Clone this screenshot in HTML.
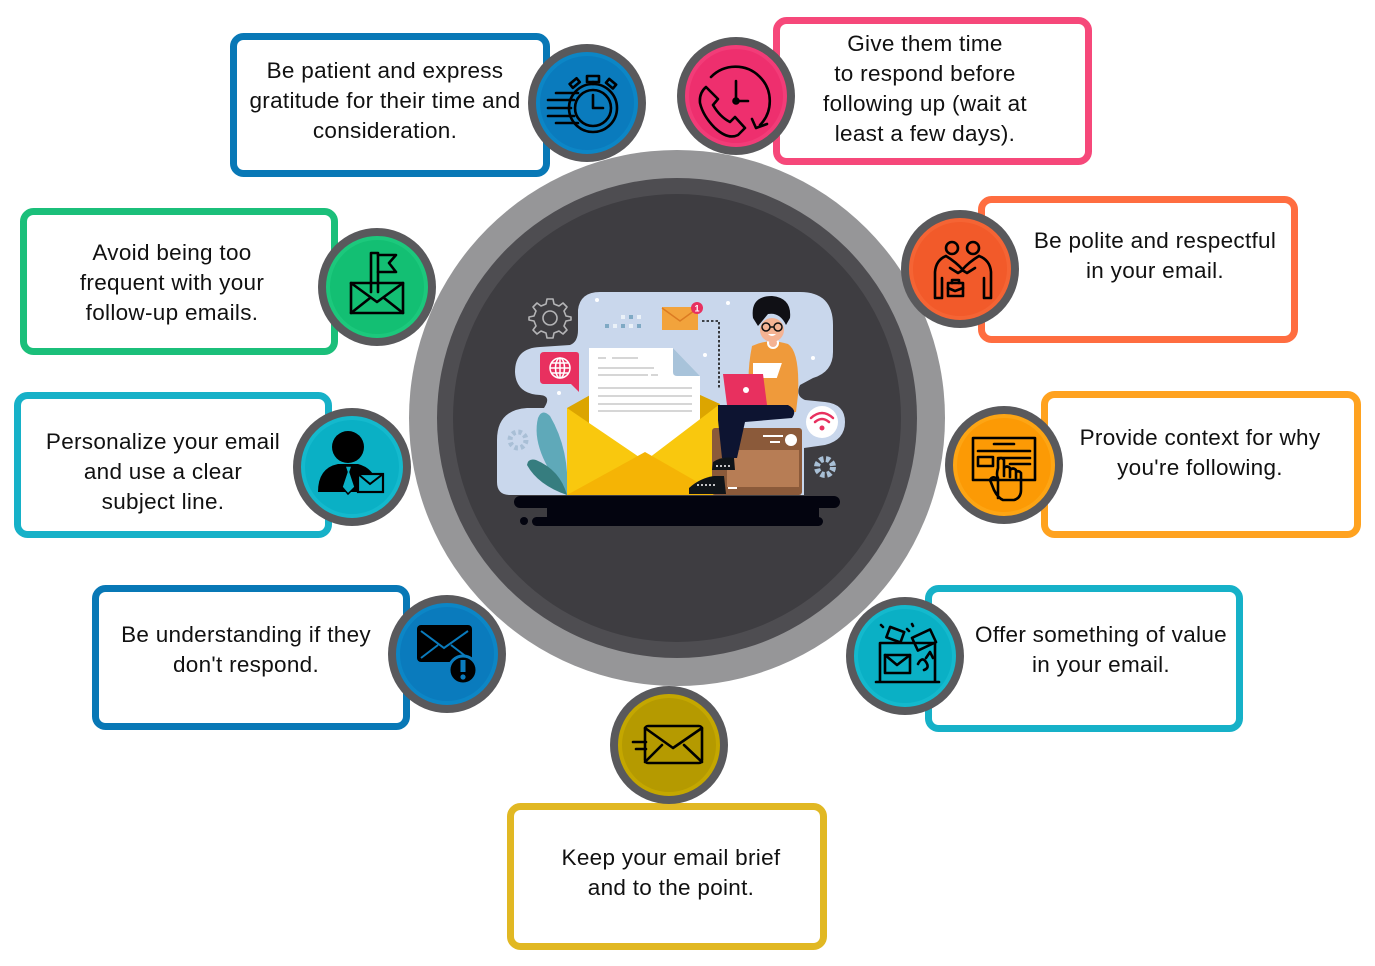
<!DOCTYPE html>
<html><head><meta charset="utf-8"><style>
html,body{margin:0;padding:0;background:#fff;}
svg{display:block;}
text{font-family:"Liberation Sans",sans-serif;font-size:22.5px;letter-spacing:0.3px;fill:#111;}
</style></head><body>
<svg width="1375" height="966" viewBox="0 0 1375 966" xmlns="http://www.w3.org/2000/svg">
<!-- big central circle -->
<circle cx="677" cy="418" r="268" fill="#969698"/>
<circle cx="677" cy="418" r="240" fill="#4e4d51"/>
<circle cx="677" cy="418" r="224" fill="#3e3d41"/>

<!-- illustration -->
<path d="M600,292 H800 Q833,292 833,325 V352 Q833,372 813,378 L800,385 Q795,396 805,400 L825,402 Q845,404 845,422 Q845,440 825,445 L804,448 V495 H510 Q497,495 497,482 V440 Q497,410 527,408 L544,408 Q552,396 540,395 Q516,394 515,372 Q515,348 540,347 L570,345 Q578,342 578,330 V310 Q580,292 600,292 Z" fill="#c9d7ec"/>
<!-- outline gear -->
<g fill="none" stroke="#b4b4b6" stroke-width="1.6" stroke-linejoin="round">
<path d="M547,299 H553 L554,304 L559,306 L563,303 L567,307 L564,311 L566,316 L571,317 V320 L566,321 L564,326 L567,330 L563,334 L559,331 L554,333 L553,338 H547 L546,333 L541,331 L537,334 L533,330 L536,326 L534,321 L529,320 V317 L534,316 L536,311 L533,307 L537,303 L541,306 L546,304 Z"/>
<circle cx="550" cy="318" r="7"/>
</g>
<!-- dots -->
<g fill="#eaf1f8"><rect x="621" y="315" width="4" height="4"/><rect x="637" y="315" width="4" height="4"/><rect x="613" y="324" width="4" height="4"/><rect x="629" y="324" width="4" height="4"/></g>
<g fill="#7fa9c4"><rect x="629" y="315" width="4" height="4"/><rect x="605" y="324" width="4" height="4"/><rect x="621" y="324" width="4" height="4"/><rect x="637" y="324" width="4" height="4"/></g>
<circle cx="597" cy="300" r="2" fill="#fff"/><circle cx="705" cy="355" r="2" fill="#fff"/><circle cx="559" cy="393" r="2" fill="#fff"/><circle cx="728" cy="303" r="2" fill="#fff"/><circle cx="813" cy="358" r="2" fill="#fff"/>
<!-- small envelope -->
<rect x="662" y="307" width="36" height="23" fill="#f2a33c"/>
<path d="M662,308 L680,321 L698,308" fill="none" stroke="#dc7b22" stroke-width="1.5"/>
<circle cx="697" cy="308" r="6" fill="#e8305f"/>
<text x="697" y="311.5" text-anchor="middle" style="font-size:9px;fill:#fff;font-weight:bold;letter-spacing:0">1</text>
<path d="M702,321 H719 V388" fill="none" stroke="#111" stroke-width="1.6" stroke-dasharray="2.5 2"/>
<!-- globe bubble -->
<path d="M544,352 H576 Q579,352 579,355 V392 L571,384 H544 Q540,384 540,380 V356 Q540,352 544,352 Z" fill="#e8305f"/>
<g fill="none" stroke="#fff" stroke-width="1.5"><circle cx="560" cy="368" r="10"/><ellipse cx="560" cy="368" rx="4.5" ry="10"/><path d="M550,368 H570 M552,363 H568 M552,373 H568 M560,358 V378"/></g>
<!-- leaves -->
<path d="M567,495 Q530,450 538,418 Q542,408 550,416 Q570,450 567,495 Z" fill="#5fa9b9"/>
<path d="M567,495 Q538,485 527,465 Q528,458 536,460 Q560,470 567,495 Z" fill="#367d7f"/>
<!-- small gears -->
<circle cx="518" cy="440" r="8" fill="none" stroke="#a9bfd6" stroke-width="5" stroke-dasharray="3.5 2.8"/>
<circle cx="518" cy="440" r="3" fill="#c9d7ec"/>
<circle cx="825" cy="467" r="8" fill="none" stroke="#a9c0d6" stroke-width="6" stroke-dasharray="4 2.4"/>
<circle cx="825" cy="467" r="3" fill="#3e3d41"/>
<!-- envelope back -->
<path d="M567,408 L592,394 H698 L720,404 V430 H567 Z" fill="#dca500"/>
<!-- paper -->
<path d="M589,348 H673 L700,376 V470 H589 Z" fill="#fff"/>
<path d="M673,348 L700,376 H677 Q673,376 673,372 Z" fill="#a8c3da"/>
<g stroke="#d6d6d6" stroke-width="2"><path d="M598,358 H606 M612,358 H638 M598,368 H654 M598,375 H648 M651,375 H658 M598,388 H692 M598,396 H692 M598,404 H692 M598,411 H692"/></g>
<!-- envelope front -->
<path d="M567,408 L645,461 L720,404 V495 H567 Z" fill="#f9c80e"/>
<path d="M567,495 L645,452 L720,495 Z" fill="#f5b405"/>
<!-- box -->
<rect x="712" y="428" width="90" height="67" rx="3" fill="#8b5a3a"/>
<rect x="727" y="450" width="72" height="37" fill="#b77d55"/>
<circle cx="791" cy="440" r="6" fill="#fff"/>
<path d="M763,436 H783 M770,442 H780" stroke="#fff" stroke-width="2"/>
<path d="M728,488 H737" stroke="#fff" stroke-width="2"/>
<!-- wifi -->
<circle cx="822" cy="422" r="16" fill="#fff"/>
<g fill="none" stroke="#e8305f" stroke-width="2.5" stroke-linecap="round"><path d="M811,418 Q822,408 833,418"/><path d="M815,422 Q822,416 829,422"/></g>
<circle cx="822" cy="428" r="2.5" fill="#e8305f"/>
<!-- person -->
<path d="M752,346 Q768,338 788,344 Q800,352 798,395 L796,412 H752 Q745,380 752,346 Z" fill="#ef9a3b"/>
<rect x="753" y="363" width="34" height="15" fill="#fff"/>
<circle cx="773" cy="343" r="5" fill="#f4b393" stroke="#fff" stroke-width="2"/>
<ellipse cx="772" cy="330" rx="12" ry="12" fill="#f4b393"/>
<path d="M753,318 Q750,296 772,296 Q792,298 790,318 L786,325 Q780,312 768,314 L758,326 Z" fill="#101015"/>
<g fill="none" stroke="#111" stroke-width="1.5"><circle cx="766" cy="327" r="4"/><circle cx="778" cy="327" r="4"/><path d="M770,327 H774"/></g>
<path d="M768,334 Q772,338 776,334" fill="#fff"/>
<path d="M787,348 Q800,360 797,400 Q792,410 775,404 L770,398" fill="#ef9a3b"/>
<path d="M718,405 H788 Q798,410 792,418 L745,422 L737,458 H722 L718,420 Z" fill="#0d1431"/>
<path d="M723,374 H763 L767,405 H727 Z" fill="#e8305f"/>
<circle cx="746" cy="390" r="3" fill="#fff"/>
<path d="M713,462 Q722,456 734,458 L735,470 H712 Z" fill="#0f1419"/>
<path d="M689,488 Q700,478 714,476 L724,476 L726,494 H689 Z" fill="#0f1419"/>
<path d="M697,485 H715 M716,466 H730" stroke="#fff" stroke-width="1.5" stroke-dasharray="2 2"/>
<!-- base -->
<rect x="514" y="496" width="326" height="12" rx="6" fill="#03040f"/>
<rect x="547" y="506" width="272" height="12" fill="#03040f"/>
<rect x="532" y="517" width="291" height="9" rx="4.5" fill="#03040f"/>
<circle cx="524" cy="521" r="4" fill="#03040f"/>

<!-- boxes -->
<g fill="#fff" stroke-width="7">
<rect x="233.5" y="36.5" width="313" height="137" rx="10" stroke="#0878b6"/>
<rect x="776.5" y="20.5" width="312" height="141" rx="10" stroke="#f6487a"/>
<rect x="23.5" y="211.5" width="311" height="140" rx="10" stroke="#1bbf7a"/>
<rect x="17.5" y="395.5" width="311" height="139" rx="10" stroke="#16b1c8"/>
<rect x="981.5" y="199.5" width="313" height="140" rx="10" stroke="#ff6d40"/>
<rect x="1044.5" y="394.5" width="313" height="140" rx="10" stroke="#ffa21f"/>
<rect x="95.5" y="588.5" width="311" height="138" rx="10" stroke="#0878b6"/>
<rect x="928.5" y="588.5" width="311" height="140" rx="10" stroke="#16b1c8"/>
<rect x="510.5" y="806.5" width="313" height="140" rx="10" stroke="#e1b823"/>
</g>

<!-- texts -->
<g text-anchor="middle">
<text x="385" y="78">Be patient and express</text>
<text x="385" y="108">gratitude for their time and</text>
<text x="385" y="138">consideration.</text>
<text x="925" y="51">Give them time</text>
<text x="925" y="81">to respond before</text>
<text x="925" y="111">following up (wait at</text>
<text x="925" y="141">least a few days).</text>
<text x="172" y="260">Avoid being too</text>
<text x="172" y="290">frequent with your</text>
<text x="172" y="320">follow-up emails.</text>
<text x="163" y="449">Personalize your email</text>
<text x="163" y="479">and use a clear</text>
<text x="163" y="509">subject line.</text>
<text x="1155" y="248">Be polite and respectful</text>
<text x="1155" y="278">in your email.</text>
<text x="1200" y="445">Provide context for why</text>
<text x="1200" y="475">you're following.</text>
<text x="246" y="642">Be understanding if they</text>
<text x="246" y="672">don't respond.</text>
<text x="1101" y="642">Offer something of value</text>
<text x="1101" y="672">in your email.</text>
<text x="671" y="865">Keep your email brief</text>
<text x="671" y="895">and to the point.</text>
</g>

<!-- icon circles -->
<g>
<circle cx="587" cy="103" r="59" fill="#59595c"/><circle cx="587" cy="103" r="49" fill="#0a7bbd" stroke="#0c86c6" stroke-width="4"/>
<circle cx="736" cy="96" r="59" fill="#59595c"/><circle cx="736" cy="96" r="49" fill="#ee2f6e" stroke="#f23c78" stroke-width="4"/>
<circle cx="377" cy="287" r="59" fill="#59595c"/><circle cx="377" cy="287" r="49" fill="#13bf73" stroke="#1cc87c" stroke-width="4"/>
<circle cx="352" cy="467" r="59" fill="#59595c"/><circle cx="352" cy="467" r="49" fill="#0ab0c5" stroke="#14b9cd" stroke-width="4"/>
<circle cx="960" cy="269" r="59" fill="#59595c"/><circle cx="960" cy="269" r="49" fill="#f25a2a" stroke="#f56434" stroke-width="4"/>
<circle cx="1004" cy="465" r="59" fill="#59595c"/><circle cx="1004" cy="465" r="49" fill="#fc9a05" stroke="#fda514" stroke-width="4"/>
<circle cx="447" cy="654" r="59" fill="#59595c"/><circle cx="447" cy="654" r="49" fill="#0a7bbd" stroke="#0c86c6" stroke-width="4"/>
<circle cx="905" cy="656" r="59" fill="#59595c"/><circle cx="905" cy="656" r="49" fill="#0ab0c5" stroke="#14b9cd" stroke-width="4"/>
<circle cx="669" cy="745" r="59" fill="#59595c"/><circle cx="669" cy="745" r="49" fill="#b59a00" stroke="#c4a700" stroke-width="4"/>
</g>

<!-- icon glyphs -->
<g fill="none" stroke="#000" stroke-width="2.6" stroke-linecap="round" stroke-linejoin="round">
<!-- 1 stopwatch -->
<circle cx="593" cy="108" r="24"/>
<circle cx="593" cy="108" r="18"/>
<path d="M593,95 V108 H603"/>
<rect x="587" y="76" width="12" height="6"/>
<path d="M593,82 V84"/>
<rect x="570" y="81" width="9" height="5" transform="rotate(-40 574 83)"/>
<rect x="607" y="81" width="9" height="5" transform="rotate(40 611 83)"/>
<path d="M556,93 H578 M548,100 H574 M548,108 H571 M548,116 H574 M556,123 H578"/>
<!-- 2 phone clock -->
<path d="M711,77 A33,33 0 0 1 760,125"/>
<path d="M752,119 L756,128 L767,124"/>
<path d="M736,81 V101 H748"/>
<circle cx="736" cy="101" r="2.5"/>
<path d="M706,87 L718,99 L713,105 Q720,117 730,122 L735,117 L745,128 L738,135 Q728,140 715,128 Q703,116 700,103 Q699,93 706,87 Z"/>
<!-- 3 flag envelope -->
<rect x="351" y="283" width="52" height="30"/>
<path d="M351,283 L377,302 L403,283 M351,313 L370,298 M403,313 L384,298"/>
<path d="M371,292 V253 H378 V292"/>
<path d="M378,255 H396 L389,263 L396,272 H378"/>
<!-- 5 handshake -->
<circle cx="952" cy="248" r="6"/>
<circle cx="973" cy="248" r="6"/>
<path d="M946,256 Q936,260 935,272 V298 H942 V278 M946,256 Q956,262 963,270 L958,273 L950,268"/>
<path d="M979,256 Q990,260 991,272 V298 H984 V278 M979,256 Q969,262 962,270 L967,273 L975,268"/>
<rect x="948" y="283" width="15" height="13"/>
<path d="M952,283 V280 H959 V283 M948,288 L955,291 L963,288"/>
<!-- 6 screen hand -->
<rect x="973" y="438" width="62" height="42"/>
<path d="M994,444 H1014 M978,451 H1030 M998,458 H1030 M1010,464 H1030"/>
<rect x="978" y="457" width="15" height="9"/>
<path d="M998,498 V478 Q996,475 998,468 V460 Q1001,456 1004,460 V476 M1004,468 Q1007,465 1010,468 V477 M1010,470 Q1013,467 1016,470 V478 M1016,472 Q1019,470 1021,473 V490 Q1021,498 1014,500 H1003 Q998,498 994,490 L990,480 Q992,476 996,478"/>
<!-- 8 mailbox -->
<path d="M880,682 V643 H935 V682 M876,682 H939"/>
<rect x="885" y="655" width="25" height="18"/>
<path d="M885,655 L897,665 L910,655"/>
<path d="M918,664 Q922,656 926,662 Q930,668 924,670 M926,658 L930,652 L933,658"/>
<rect x="888" y="629" width="15" height="11" transform="rotate(20 895 634)"/>
<rect x="914" y="633" width="20" height="14" transform="rotate(-25 924 640)"/>
<path d="M881,625 L883,627 M907,629 L909,631 M912,624 L913,626"/>
<!-- 9 envelope speed -->
<rect x="645" y="726" width="57" height="37" rx="3"/>
<path d="M645,728 L673,748 L702,728 M645,762 L662,745 M702,762 L684,745"/>
<path d="M633,742 H646 M636,749 H646"/>
</g>
<!-- 4 person (filled) -->
<circle cx="348" cy="447" r="16" fill="#000"/>
<path d="M318,492 Q318,468 338,464 L358,464 Q374,468 378,486 L378,492 Z" fill="#000"/>
<path d="M345,466 H352 L350,472 L355,487 L348,494 L342,487 L347,472 Z" fill="#0ab0c5" stroke="#000" stroke-width="1.5"/>
<rect x="358" y="474" width="25" height="18" fill="#0ab0c5" stroke="#000" stroke-width="2.2"/>
<path d="M358,474 L370,484 L383,474" fill="none" stroke="#000" stroke-width="2"/>
<!-- 7 envelope alert (filled) -->
<rect x="417" y="625" width="55" height="37" rx="4" fill="#000"/>
<path d="M421,631 L444,648 L468,631 M421,658 L438,645 M468,658 L451,645" fill="none" stroke="#0a7bbd" stroke-width="2"/>
<circle cx="463" cy="670" r="14" fill="#000" stroke="#0a7bbd" stroke-width="3"/>
<rect x="460.5" y="660" width="5" height="12" fill="#0a7bbd"/>
<circle cx="463" cy="677" r="2.6" fill="#0a7bbd"/>
</svg>
</body></html>
